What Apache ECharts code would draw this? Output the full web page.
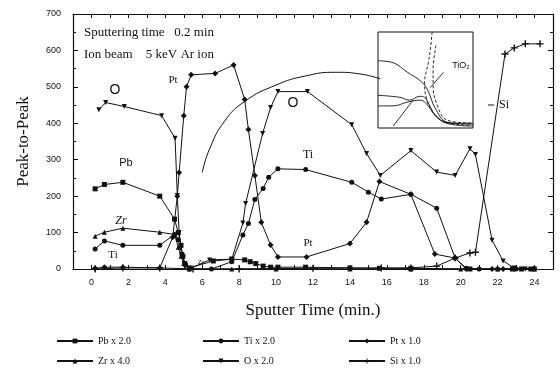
<!DOCTYPE html>
<html>
<head>
<meta charset="utf-8">
<script src="https://cdn.jsdelivr.net/npm/echarts@6/dist/echarts.min.js"></script>
<style>
  html, body { margin: 0; padding: 0; background: #fff; }
  #chart { width: 560px; height: 379px; }
</style>
</head>
<body>
<div id="chart"></div>
<script>
// [sputter time (min), peak-to-peak]
const pbData = [[0.2, 220], [0.7, 232], [1.7, 238], [3.7, 200], [4.5, 137], [4.7, 100], [4.85, 65], [4.95, 35], [5.05, 15], [5.3, 3], [6.6, 22], [7.6, 27], [8.3, 25], [8.6, 20], [8.9, 15], [9.3, 8], [9.7, 5], [10.1, 5], [11.6, 5], [14.0, 3], [15.6, 2], [17.3, 2], [20.5, 0], [22.8, 0], [23.3, 0], [23.8, 0]];
const zrData = [[0.2, 90], [0.7, 101], [1.7, 112], [3.7, 101], [4.5, 95], [4.7, 60], [4.85, 35], [5.0, 15], [5.3, 0], [7.6, 0], [10.0, 0], [14.0, 0], [17.3, 0], [20.0, 0], [22.0, 0], [24.0, 0]];
const tiData = [[0.2, 55], [0.7, 77], [1.7, 65], [3.7, 65], [4.5, 95], [4.7, 80], [4.9, 40], [5.1, 10], [5.3, 0], [6.5, 0], [7.6, 20], [8.2, 93], [8.5, 125], [8.85, 191], [9.3, 221], [9.6, 252], [10.1, 275], [11.6, 273], [14.1, 238], [15.0, 211], [15.7, 192], [17.3, 205], [18.7, 167], [19.7, 30], [20.3, 2], [21.0, 0], [22.0, 0], [23.0, 0], [24.0, 0]];
const oData = [[0.4, 437], [0.77, 457], [1.78, 446], [3.8, 421], [4.53, 359], [4.65, 202], [4.75, 100], [4.9, 40], [5.1, 10], [5.3, 0], [6.4, 25], [7.6, 27], [8.2, 126], [8.35, 180], [9.27, 372], [9.7, 443], [10.1, 487], [11.7, 487], [14.1, 396], [14.9, 317], [15.65, 257], [17.3, 325], [18.7, 266], [19.7, 257], [20.5, 330], [20.8, 314], [21.7, 79], [22.3, 22], [22.9, 3], [23.5, 0], [24.0, 0]];
const ptData = [[0.2, 2], [0.7, 5], [1.7, 5], [3.7, 3], [4.4, 87], [4.65, 200], [4.75, 265], [5.0, 421], [5.15, 500], [5.4, 533], [6.7, 537], [7.7, 560], [8.3, 465], [8.5, 383], [8.85, 257], [9.2, 128], [9.7, 66], [10.1, 33], [11.65, 33], [14.0, 70], [14.9, 128], [15.6, 240], [17.3, 205], [18.6, 41], [19.7, 30], [20.3, 0], [21.7, 0], [22.3, 0], [22.9, 0]];
const siData = [[0.2, 0], [1.7, 3], [3.7, 3], [5.5, 0], [8.0, 0], [12.0, 2], [15.7, 3], [17.3, 3], [18.7, 8], [19.7, 30], [20.5, 44], [20.8, 46], [22.4, 590], [22.9, 607], [23.5, 618], [24.3, 618]];

// the big guide arc
const arcData = [[6.0, 265], [6.4, 330], [7.2, 405], [8.3, 460], [10.0, 505], [11.6, 530], [13.2, 540], [14.6, 535], [15.65, 522]];

// inset curves, 0-100 on both axes
const insetA = [[0, 70], [16, 68], [31, 58], [46, 48], [53, 38], [60, 21], [73, 6], [100, 4]];
const insetB = [[57, 100], [55, 81], [53, 68], [49, 47], [51, 31], [57, 17], [71, 6], [97, 3]];
const insetC = [[61, 86], [58, 60], [58, 45], [63, 22], [73, 8], [100, 5]];
const insetD = [[0, 34], [23, 32], [33, 29], [44, 33], [49, 32], [55, 22], [62, 11], [76, 5], [100, 5]];
const insetE = [[0, 23], [16, 23], [31, 27], [45, 29], [52, 24], [60, 14], [72, 5], [100, 2]];
const insetF = [[16, 2], [37, 29]];
const insetLeader = [[55, 42], [69, 58]];

const xTicks = [0, 2, 4, 6, 8, 10, 12, 14, 16, 18, 20, 22, 24];

const ink = '#111';
const serif = '"Liberation Serif", "DejaVu Serif", serif';
const sans = '"Liberation Sans", Arial, sans-serif';
const plusPath = 'path://M4,0H6V10H4Z M0,4H10V6H0Z';

function mkSeries(name, data, symbol, extra) {
  return Object.assign({
    name: name,
    type: 'line',
    data: data,
    symbol: symbol,
    symbolSize: 5,
    showSymbol: true,
    itemStyle: { color: ink },
    lineStyle: { color: ink, width: 1 },
    z: 3,
    animation: false,
  }, extra || {});
}

function insetLine(data, dashed) {
  return {
    type: 'line',
    xAxisIndex: 2,
    yAxisIndex: 2,
    data: data,
    smooth: 0.4,
    symbol: 'none',
    lineStyle: { color: ink, width: 0.9, type: dashed ? [3, 2] : 'solid' },
    z: 5,
    animation: false,
    silent: true,
  };
}

function legendBox(left, names) {
  return {
    left: left, top: 335, padding: 0, orient: 'vertical', itemGap: 8, itemWidth: 36, itemHeight: 6,
    data: names, selectedMode: false,
    textStyle: { fontFamily: serif, fontSize: 10, color: ink, lineHeight: 12 },
  };
}

function label(x, y, text, font) {
  return { type: 'text', x: x, y: y, z: 10,
    style: { text: text, font: font, fill: ink, align: 'center', verticalAlign: 'middle' } };
}

const myChart = echarts.init(document.getElementById('chart'), null, { renderer: 'canvas' });

const option = {
  backgroundColor: '#fff',
  grid: [
    { left: 73, right: 7, top: 14, bottom: 110, containLabel: false },
    { left: 378, top: 32, width: 95, height: 96, show: true, borderColor: ink, borderWidth: 1, backgroundColor: 'transparent' },
  ],
  legend: [
    legendBox(56, ['Pb x 2.0', 'Zr x 4.0']),
    legendBox(202, ['Ti x 2.0', 'O x 2.0']),
    legendBox(348, ['Pt x 1.0', 'Si x 1.0']),
  ],
  xAxis: [
    {
      type: 'value', min: -1, max: 25, interval: 1,
      name: 'Sputter Time (min.)', nameLocation: 'middle', nameGap: 33,
      nameTextStyle: { fontFamily: serif, fontSize: 17, color: ink },
      axisLine: { onZero: false, lineStyle: { color: ink, width: 1.2 } },
      axisTick: { inside: true, length: 4, lineStyle: { color: ink } },
      axisLabel: {
        margin: 9, fontFamily: sans, fontSize: 9, color: ink,
        formatter: function (v) { return xTicks.indexOf(v) >= 0 ? String(v) : ''; },
      },
      splitLine: { show: false },
    },
    {
      type: 'value', position: 'top', min: -1, max: 25, interval: 1,
      axisLine: { onZero: false, lineStyle: { color: ink, width: 1.2 } },
      axisTick: { inside: true, length: 4, lineStyle: { color: ink } },
      axisLabel: { show: false },
      splitLine: { show: false },
    },
    {
      type: 'value', gridIndex: 1, min: 0, max: 100, show: false,
    },
  ],
  yAxis: [
    {
      type: 'value', min: 0, max: 700, interval: 100,
      name: 'Peak-to-Peak', nameLocation: 'middle', nameGap: 41,
      nameTextStyle: { fontFamily: serif, fontSize: 17, color: ink },
      axisLine: { show: true, onZero: false, lineStyle: { color: ink, width: 1.2 } },
      axisTick: { show: true, inside: true, length: 5, lineStyle: { color: ink } },
      minorTick: { show: true, splitNumber: 2, length: 3, lineStyle: { color: ink } },
      axisLabel: { margin: 12, fontFamily: sans, fontSize: 9, color: ink },
      splitLine: { show: false },
    },
    {
      type: 'value', position: 'right', min: 0, max: 700, interval: 100,
      axisLine: { show: true, onZero: false, lineStyle: { color: ink, width: 1.2 } },
      axisTick: { show: true, inside: true, length: 5, lineStyle: { color: ink } },
      minorTick: { show: true, splitNumber: 2, length: 3, lineStyle: { color: ink } },
      axisLabel: { show: false },
      splitLine: { show: false },
    },
    {
      type: 'value', gridIndex: 1, min: 0, max: 100, show: false,
    },
  ],
  series: [
    mkSeries('Pb x 2.0', pbData, 'rect'),
    mkSeries('Zr x 4.0', zrData, 'triangle'),
    mkSeries('Ti x 2.0', tiData, 'circle'),
    mkSeries('O x 2.0', oData, 'triangle', { symbolRotate: 180 }),
    mkSeries('Pt x 1.0', ptData, 'diamond', { symbolSize: 6 }),
    mkSeries('Si x 1.0', siData, plusPath, { symbolSize: 7 }),
    {
      type: 'line', data: arcData, smooth: 0.5, symbol: 'none',
      lineStyle: { color: ink, width: 1 }, z: 2, animation: false, silent: true,
    },
    insetLine(insetA, false),
    insetLine(insetB, true),
    insetLine(insetC, true),
    insetLine(insetD, false),
    insetLine(insetE, false),
    insetLine(insetF, false),
    insetLine(insetLeader, false),
  ],
  graphic: [
    { type: 'text', left: 84, top: 26, z: 10, style: { text: 'Sputtering time   0.2 min', font: '13px ' + serif, fill: ink } },
    { type: 'text', left: 84, top: 48, z: 10, style: { text: 'Ion beam    5 keV Ar ion', font: '13px ' + serif, fill: ink } },
    label(115, 90, 'O', '14px ' + sans),
    label(173, 80, 'Pt', '11px ' + serif),
    label(126, 163, 'Pb', '11px ' + sans),
    label(121, 221, 'Zr', 'italic 12px ' + serif),
    label(113, 255, 'Ti', '11px ' + serif),
    label(201, 262, 'Zr', '7px ' + serif),
    label(293, 103, 'O', '14px ' + sans),
    label(308, 155, 'Ti', '12px ' + serif),
    label(308, 243, 'Pt', '11px ' + serif),
    label(504, 105, 'Si', '12px ' + serif),
    { type: 'line', z: 10, shape: { x1: 488, y1: 105, x2: 494, y2: 105 }, style: { stroke: ink, lineWidth: 1 } },
    label(461, 66, 'TiO₂', '9px ' + sans),
  ],
};

myChart.setOption(option);
</script>
</body>
</html>
